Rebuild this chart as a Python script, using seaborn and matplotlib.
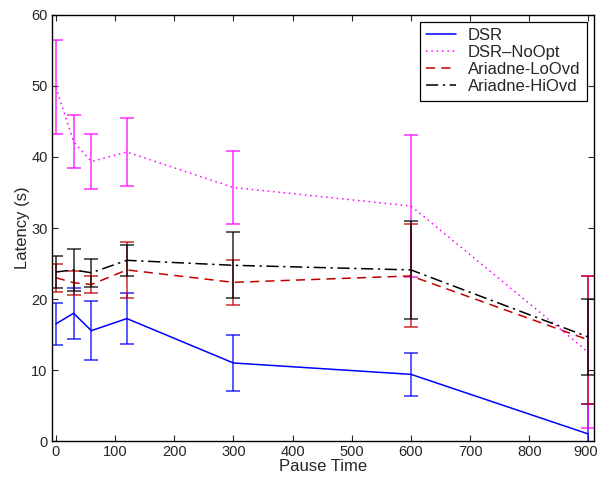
import matplotlib
matplotlib.use("Agg")
import matplotlib.pyplot as plt
import matplotlib.transforms as mtransforms
import seaborn as sns
import pandas as pd

pause = [0, 30, 60, 120, 300, 600, 900]
dsr = [16.5, 18.0, 15.55, 17.25, 11.0, 9.4, 1.0]
dsr_err = [3.0, 3.6, 4.15, 3.55, 3.9, 3.0, 4.2]
noopt = [49.8, 42.15, 39.35, 40.7, 35.7, 33.1, 12.5]
noopt_err = [6.6, 3.75, 3.85, 4.8, 5.1, 10.0, 10.7]
lo = [23.0, 22.3, 22.05, 24.1, 22.35, 23.25, 14.25]
lo_err = [2.0, 1.7, 1.25, 3.9, 3.15, 7.25, 9.05]
hi = [23.8, 24.1, 23.7, 25.45, 24.75, 24.1, 14.65]
hi_err = [2.3, 2.9, 2.0, 2.15, 4.65, 6.9, 5.35]

names = ["DSR", "DSR\u2013NoOpt", "Ariadne-LoOvd", "Ariadne-HiOvd"]
means = [dsr, noopt, lo, hi]
errs = [dsr_err, noopt_err, lo_err, hi_err]
colors = ["#0000ff", "#ff00ff", "#c00000", "#000000"]
styles = ["-", (0, (1, 2.5)), (0, (6, 4)), (0, (8, 3, 1.5, 3))]

sns.set_style("ticks")
plt.rcParams["font.family"] = ["Liberation Sans", "DejaVu Sans"]

fig = plt.figure(figsize=(5.99, 4.8), dpi=100)
ax = fig.add_axes([0.0863, 0.081, 0.905, 0.888])

for name, m, e, c, ls in zip(names, means, errs, colors, styles):
    df = pd.DataFrame({"Pause Time": pause, "Latency": m})
    sns.lineplot(data=df, x="Pause Time", y="Latency", ax=ax, color=c,
                 linestyle=ls, linewidth=1.1, label=name)
    ax.errorbar(pause, m, yerr=e, fmt="none", ecolor=c, alpha=0.7,
                elinewidth=1.3, capsize=5, capthick=1.3)

ax.set_xlim(-7, 909)
ax.set_ylim(0, 60)
ax.set_xticks(range(0, 901, 100))
ax.set_yticks(range(0, 61, 10))
ax.set_xlabel("Pause Time", fontsize=12, labelpad=0)
ax.set_ylabel("Latency (s)", fontsize=12, labelpad=1)
ax.tick_params(direction="in", top=True, right=True, labelsize=10.5,
               length=4, width=0.8, pad=3)
fig.canvas.draw()
shift = mtransforms.ScaledTranslation(-3 / 100, 0, fig.dpi_scale_trans)
for t in ax.get_xticklabels():
    if t.get_text() == "900":
        t.set_transform(t.get_transform() + shift)
for s in ax.spines.values():
    s.set_visible(True)
    s.set_linewidth(1.0)
    s.set_color("black")

leg = ax.legend(loc="upper right", fontsize=12, frameon=True, fancybox=False,
                edgecolor="black", framealpha=1, borderpad=0.4,
                labelspacing=0.12, handlelength=1.8, handletextpad=0.7,
                borderaxespad=0.4)
leg.get_frame().set_linewidth(0.9)

fig.savefig("out.png", dpi=100)
